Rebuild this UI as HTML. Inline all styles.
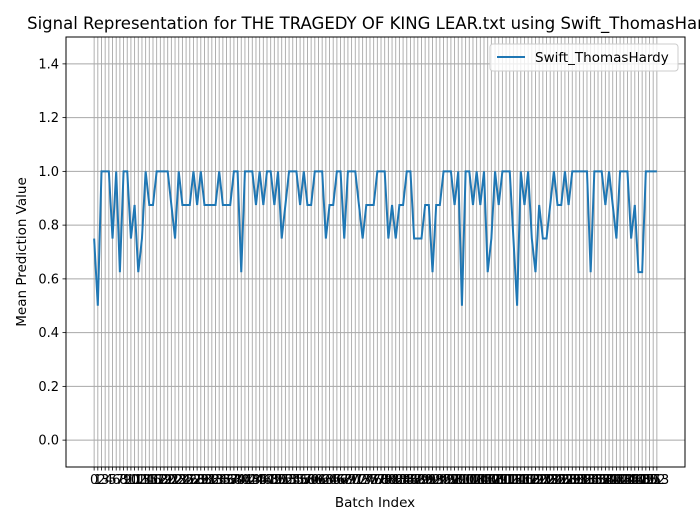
<!DOCTYPE html>
<html><head><meta charset="utf-8"><style>
body{margin:0;background:#fff;overflow:hidden;}
svg{font-family:"DejaVu Sans","Liberation Sans",sans-serif;}
</style></head><body>
<svg id="chart" width="700" height="525" xmlns="http://www.w3.org/2000/svg">
<rect width="700" height="525" fill="#fff"/>
<g id="grid"></g>
<g id="ticks"></g>
<polyline id="line" fill="none" stroke="#1f77b4" stroke-width="2"/>
<rect x="66" y="37" width="619" height="430" fill="none" stroke="#000" stroke-width="1"/>
<text x="375.5" y="29" text-anchor="middle" font-size="16.5">Signal Representation for THE TRAGEDY OF KING LEAR.txt using Swift_ThomasHardy</text>
<text x="375" y="507" text-anchor="middle" font-size="13.5">Batch Index</text>
<text transform="translate(26,252) rotate(-90)" text-anchor="middle" font-size="13.5">Mean Prediction Value</text>
<g>
<rect x="490" y="44" width="188" height="27" rx="3" fill="#fff" fill-opacity="0.8" stroke="#ccc"/>
<line x1="497" y1="57" x2="525" y2="57" stroke="#1f77b4" stroke-width="2"/>
<text x="535" y="62" font-size="13.5">Swift_ThomasHardy</text>
</g>
</svg>
<script>
const values=[0.75,0.5,1,1,1,0.75,1,0.625,1,1,0.75,0.875,0.625,0.75,1,0.875,0.875,1,1,1,1,0.875,0.75,1,0.875,0.875,0.875,1,0.875,1,0.875,0.875,0.875,0.875,1,0.875,0.875,0.875,1,1,
0.625,1,1,1,0.875,1,0.875,1,1,0.875,1,0.75,0.875,1,1,1,0.875,1,0.875,0.875,1,1,1,0.75,0.875,0.875,1,1,0.75,1,1,1,0.875,0.75,0.875,0.875,0.875,1,1,1,
0.75,0.875,0.75,0.875,0.875,1,1,0.75,0.75,0.75,0.875,0.875,0.625,0.875,0.875,1,1,1,0.875,1,0.5,1,1,0.875,1,0.875,1,0.625,0.75,1,0.875,1,1,1,0.75,0.5,
1,0.875,1,0.75,0.625,0.875,0.75,0.75,0.875,1,0.875,0.875,1,0.875,1,1,1,1,1,0.625,1,1,1,0.875,1,0.875,0.75,1,1,1,0.75,0.875,0.625,0.625,1,1,1,1];
const yTicks=[0,0.2,0.4,0.6,0.8,1.0,1.2,1.4];
const L=66,R=685,T=37,B=467;
const n=values.length;
const xmin=-(n-1)*0.05,xmax=(n-1)*1.05;
const ymin=-0.1,ymax=1.5;
const X=i=>L+(i-xmin)/(xmax-xmin)*(R-L);
const Y=v=>B-(v-ymin)/(ymax-ymin)*(B-T);
const NS='http://www.w3.org/2000/svg';
const grid=document.getElementById('grid'),ticks=document.getElementById('ticks');
function mk(tag,attrs,parent){const e=document.createElementNS(NS,tag);for(const k in attrs)e.setAttribute(k,attrs[k]);parent.appendChild(e);return e;}
for(let i=0;i<n;i++){
  const x=X(i);
  const g=mk('line',{x1:x,x2:x,y1:T,y2:B,stroke:'#a8a8a8','stroke-width':0.9},grid);
  
  
  const t=mk('line',{x1:x,x2:x,y1:B,y2:B+3.5,stroke:'#000','stroke-width':0.8},ticks);
  
  
  const lb=mk('text',{x:x,y:B+17,'text-anchor':'middle','font-size':13},ticks);
  lb.textContent=String(i);
  
  
}
yTicks.forEach(v=>{
  const y=Y(v);
  const g=mk('line',{x1:L,x2:R,y1:y,y2:y,stroke:'#a8a8a8','stroke-width':0.9},grid);
  
  
  const t=mk('line',{x1:L-3.5,x2:L,y1:y,y2:y,stroke:'#000','stroke-width':0.8},ticks);
  
  
  const lb=mk('text',{x:L-7,y:y+4.5,'text-anchor':'end','font-size':13},ticks);
  lb.textContent=v.toFixed(1);
  
  
});
document.getElementById('line').setAttribute('points',values.map((v,i)=>X(i).toFixed(2)+','+Y(v).toFixed(2)).join(' '));
</script>
</body></html>
